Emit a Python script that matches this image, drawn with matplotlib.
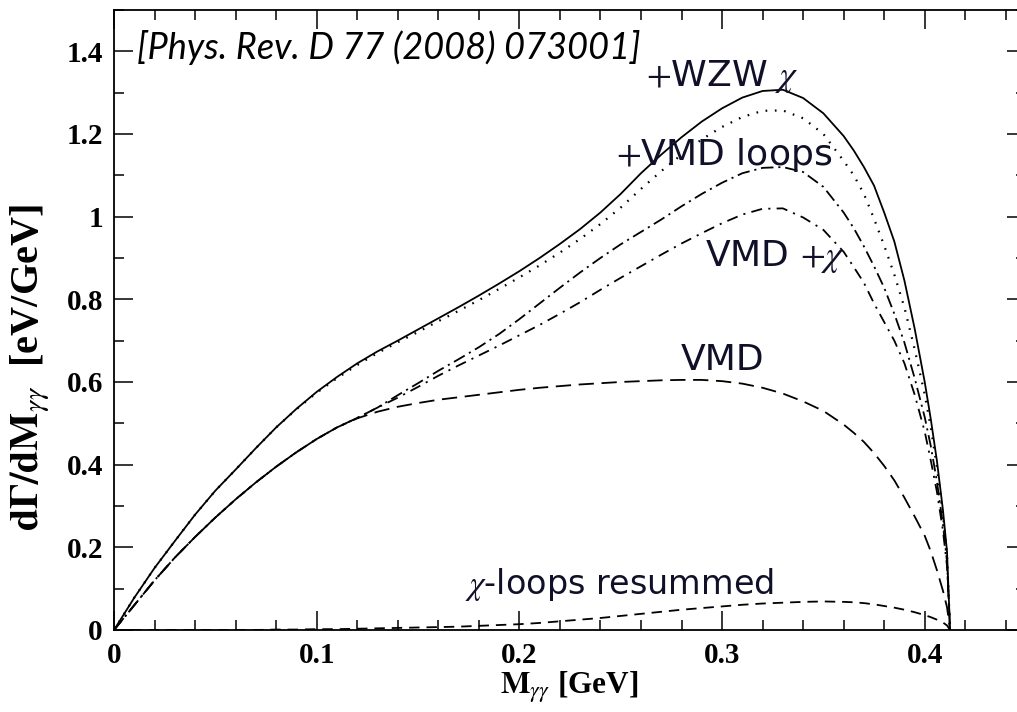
import matplotlib
matplotlib.use("Agg")
import matplotlib.pyplot as plt
from matplotlib.ticker import MultipleLocator, FormatStrFormatter

# M_gamma-gamma [GeV]
m = [0.0, 0.01, 0.02, 0.03, 0.04, 0.05, 0.06, 0.07, 0.08, 0.09,
     0.10, 0.11, 0.12, 0.13, 0.14, 0.15, 0.16, 0.17, 0.18, 0.19,
     0.20, 0.21, 0.22, 0.23, 0.24, 0.25, 0.26, 0.27, 0.28, 0.29,
     0.30, 0.31, 0.32, 0.33, 0.34, 0.35, 0.36, 0.365, 0.37, 0.375,
     0.38, 0.385, 0.39, 0.395, 0.40, 0.403, 0.406, 0.409, 0.411, 0.4125]

# dGamma/dM [eV/GeV]
wzw_chi = [0.0, 0.078, 0.150, 0.215, 0.279, 0.337, 0.388, 0.440, 0.490, 0.535,
           0.576, 0.612, 0.645, 0.674, 0.700, 0.727, 0.754, 0.781, 0.809, 0.838,
           0.868, 0.900, 0.934, 0.970, 1.010, 1.055, 1.105, 1.150, 1.192, 1.230,
           1.262, 1.288, 1.304, 1.307, 1.287, 1.250, 1.195, 1.160, 1.120, 1.075,
           1.010, 0.940, 0.845, 0.730, 0.600, 0.510, 0.410, 0.290, 0.190, 0.0]
dotted = [0.0, 0.078, 0.150, 0.215, 0.279, 0.337, 0.388, 0.440, 0.490, 0.534,
          0.574, 0.609, 0.641, 0.670, 0.696, 0.721, 0.747, 0.772, 0.798, 0.825,
          0.853, 0.882, 0.913, 0.946, 0.982, 1.022, 1.067, 1.110, 1.150, 1.187,
          1.217, 1.241, 1.256, 1.257, 1.238, 1.200, 1.135, 1.100, 1.055, 0.995,
          0.930, 0.860, 0.780, 0.680, 0.570, 0.490, 0.395, 0.280, 0.180, 0.0]
vmd_loops = [0.0, 0.060, 0.120, 0.175, 0.225, 0.272, 0.316, 0.357, 0.395, 0.430,
             0.462, 0.490, 0.513, 0.538, 0.568, 0.597, 0.627, 0.655, 0.684, 0.716,
             0.752, 0.790, 0.828, 0.865, 0.900, 0.933, 0.963, 0.993, 1.025, 1.055,
             1.082, 1.105, 1.118, 1.120, 1.108, 1.072, 1.010, 0.972, 0.928, 0.880,
             0.828, 0.765, 0.695, 0.610, 0.515, 0.445, 0.360, 0.255, 0.165, 0.0]
vmd_chi = [0.0, 0.060, 0.120, 0.175, 0.225, 0.272, 0.316, 0.357, 0.395, 0.430,
           0.462, 0.490, 0.513, 0.538, 0.562, 0.588, 0.615, 0.640, 0.664, 0.688,
           0.713, 0.738, 0.765, 0.793, 0.823, 0.852, 0.880, 0.908, 0.935, 0.960,
           0.984, 1.005, 1.019, 1.020, 0.998, 0.968, 0.915, 0.878, 0.840, 0.790,
           0.745, 0.700, 0.645, 0.570, 0.480, 0.410, 0.335, 0.240, 0.155, 0.0]
vmd = [0.0, 0.060, 0.120, 0.175, 0.225, 0.272, 0.316, 0.357, 0.395, 0.430,
       0.462, 0.490, 0.512, 0.528, 0.540, 0.549, 0.557, 0.563, 0.569, 0.575,
       0.581, 0.586, 0.590, 0.594, 0.597, 0.600, 0.602, 0.604, 0.605, 0.605,
       0.602, 0.596, 0.586, 0.572, 0.553, 0.530, 0.497, 0.477, 0.455, 0.428,
       0.397, 0.362, 0.320, 0.275, 0.228, 0.190, 0.145, 0.095, 0.055, 0.0]
chi_loops = [0.0, 0.0, 0.0, 0.0, 0.0, 0.0, 0.0, 0.0, 0.001, 0.001,
             0.002, 0.002, 0.003, 0.004, 0.005, 0.006, 0.007, 0.008, 0.010, 0.012,
             0.014, 0.017, 0.021, 0.025, 0.029, 0.034, 0.039, 0.044, 0.049, 0.053,
             0.057, 0.061, 0.064, 0.066, 0.068, 0.069, 0.068, 0.067, 0.065, 0.062,
             0.058, 0.054, 0.049, 0.043, 0.036, 0.031, 0.025, 0.018, 0.011, 0.0]

plt.rcParams['lines.scale_dashes'] = False
plt.rcParams['mathtext.fontset'] = 'stix'

fig = plt.figure(figsize=(10.17, 7.12), dpi=100)
ax = fig.add_axes([0.1121, 0.1152, 0.8968, 0.8708])

ax.plot(m, wzw_chi, color='black', lw=1.3, ls='-')
ax.plot(m, dotted, color='black', lw=1.6, ls=(0, (1.2, 5.5)))
ax.plot(m, vmd_loops, color='black', lw=1.3, ls=(0, (9, 3.5, 1.5, 3.5)))
ax.plot(m, vmd_chi, color='black', lw=1.3, ls=(0, (8, 4.5, 1.5, 4.5)))
ax.plot(m, vmd, color='black', lw=1.3, ls=(0, (11, 5.5)))
ax.plot(m, chi_loops, color='black', lw=1.3, ls=(0, (7.5, 5)))

ax.set_xlim(0, 0.45)
ax.set_ylim(0, 1.5)
ax.xaxis.set_major_locator(MultipleLocator(0.1))
ax.xaxis.set_minor_locator(MultipleLocator(0.02))
ax.yaxis.set_major_locator(MultipleLocator(0.2))
ax.yaxis.set_minor_locator(MultipleLocator(0.1))
ax.xaxis.set_major_formatter(FormatStrFormatter('%g'))
ax.yaxis.set_major_formatter(FormatStrFormatter('%g'))
ax.tick_params(which='both', direction='in', top=True, right=True, width=1.1)
ax.tick_params(which='major', length=13.5)
ax.tick_params(which='minor', length=7)
ax.tick_params(axis='x', pad=9)
ax.tick_params(axis='y', pad=8)
for s in ax.spines.values():
    s.set_linewidth(1.3)
for lab in ax.get_xticklabels() + ax.get_yticklabels():
    lab.set_fontfamily('Liberation Serif')
    lab.set_fontweight('bold')
    lab.set_fontsize(21)

fig.text(569 / 1017, 1 - 688 / 712, r'$\mathbf{M}_{\gamma\gamma}$ [GeV]',
         family='Liberation Serif', weight='bold', fontsize=22.5, ha='center', va='center')
fig.text(30 / 1017, 1 - 368 / 712, r'$\mathbf{d\Gamma/dM}_{\gamma\gamma}$  [eV/GeV]',
         family='Liberation Serif', weight='bold', fontsize=29, ha='center', va='center',
         rotation=90)

lc = '#101028'
ax.text(0.0113, 1.41, '[Phys. Rev. D 77 (2008) 073001]', family='Lato', style='italic',
        fontsize=26, ha='left', va='center', color='black')
ax.text(0.300, 1.339, r'$+$WZW $\chi$', family='DejaVu Sans', fontsize=26,
        ha='center', va='center', color=lc)
ax.text(0.301, 1.150, r'$+$VMD loops', family='DejaVu Sans', fontsize=26,
        ha='center', va='center', color=lc)
ax.text(0.326, 0.903, r'VMD $+\chi$', family='DejaVu Sans', fontsize=26,
        ha='center', va='center', color=lc)
ax.text(0.300, 0.654, 'VMD', family='DejaVu Sans', fontsize=26,
        ha='center', va='center', color=lc)
ax.text(0.2496, 0.109, r'$\chi$-loops resummed', family='DejaVu Sans', fontsize=24,
        ha='center', va='center', color=lc)

fig.savefig('out.png', dpi=100)
